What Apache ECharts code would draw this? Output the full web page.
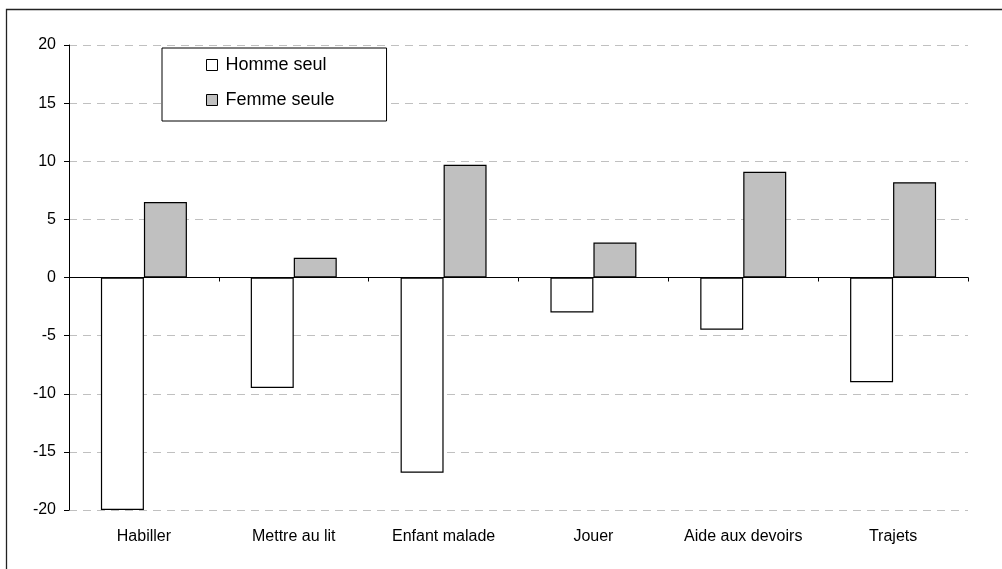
<!DOCTYPE html>
<html>
<head>
<meta charset="utf-8">
<script src="https://cdn.jsdelivr.net/npm/echarts@6/dist/echarts.min.js"></script>
<style>
  html, body { margin: 0; padding: 0; background: #fff; }
  #main { width: 1002px; height: 569px; }
</style>
</head>
<body>
<div id="main"></div>
<script>
// catégories et valeurs
var categories = ['Habiller', 'Mettre au lit', 'Enfant malade', 'Jouer', 'Aide aux devoirs', 'Trajets'];
var hommeSeul = [-20, -9.5, -16.8, -3, -4.5, -9];
var femmeSeule = [6.5, 1.7, 9.7, 3, 9.1, 8.2];

var font = 'Liberation Sans, Arial, sans-serif';

var chart = echarts.init(document.getElementById('main'));
chart.setOption({
    backgroundColor: '#fff',
    animation: false,
    textStyle: { fontFamily: font, color: '#000' },
    grid: { left: 69, right: 34, top: 45, bottom: 59 },
    // cadre extérieur (coupé à droite et en bas)
    graphic: [{
        type: 'rect',
        shape: { x: 6.5, y: 9.5, width: 1010, height: 580 },
        style: { fill: null, stroke: '#222', lineWidth: 1.3 },
        z: 0
    }],
    legend: {
        orient: 'vertical',
        left: 162,
        top: 48,
        padding: [8, 52, 12, 44],
        itemGap: 17,
        itemWidth: 11,
        itemHeight: 11,
        backgroundColor: '#fff',
        borderColor: '#000',
        borderWidth: 1,
        icon: 'rect',
        textStyle: { fontSize: 18, fontFamily: font, color: '#000', padding: [0, 0, 0, 3] },
        data: [
            { name: 'Homme seul', itemStyle: { color: '#fff', borderColor: '#000', borderWidth: 1 } },
            { name: 'Femme seule', itemStyle: { color: '#c0c0c0', borderColor: '#000', borderWidth: 1 } }
        ]
    },
    xAxis: [{
        type: 'category',
        data: categories,
        position: 'bottom',
        axisLine: { onZero: true, lineStyle: { color: '#000', width: 1 } },
        axisTick: { show: true, length: 4, lineStyle: { color: '#000' } },
        axisLabel: { show: false },
        splitLine: { show: false }
    }, {
        type: 'category',
        data: categories,
        position: 'bottom',
        axisLine: { show: false, onZero: false },
        axisTick: { show: false },
        axisLabel: { interval: 0, fontSize: 16, color: '#000', margin: 19, fontFamily: font },
        splitLine: { show: false }
    }],
    yAxis: {
        type: 'value',
        min: -20,
        max: 20,
        interval: 5,
        axisLine: { show: true, lineStyle: { color: '#000', width: 1 } },
        axisTick: { show: true, length: 5, lineStyle: { color: '#000' } },
        axisLabel: { fontSize: 16, color: '#000', margin: 13, fontFamily: font },
        splitLine: { show: true, lineStyle: { color: '#c0c0c0', type: [8, 6], width: 1 } }
    },
    series: [{
        name: 'Homme seul',
        type: 'bar',
        xAxisIndex: 0,
        barWidth: 43,
        barGap: 0,
        data: hommeSeul,
        itemStyle: { color: '#fff', borderColor: '#000', borderWidth: 1.2 }
    }, {
        name: 'Femme seule',
        type: 'bar',
        xAxisIndex: 0,
        barWidth: 43,
        barGap: 0,
        data: femmeSeule,
        itemStyle: { color: '#c0c0c0', borderColor: '#000', borderWidth: 1.2 }
    }]
});
</script>
</body>
</html>
